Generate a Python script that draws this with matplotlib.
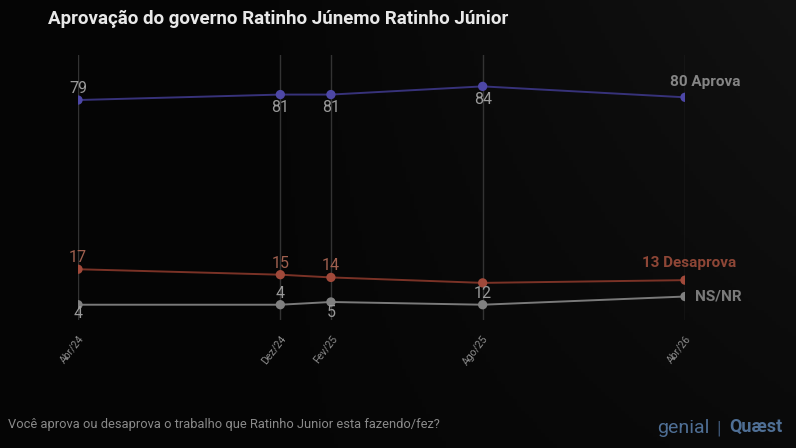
import numpy as np
import matplotlib
matplotlib.use("Agg")
import matplotlib.pyplot as plt

plt.rcParams['font.family'] = ['Roboto', 'DejaVu Sans']

# data
periods = ["Abr/24", "Dez/24", "Fev/25", "Ago/25", "Abr/26"]
months = [0, 8, 10, 16, 24]          # months since Abr/24
aprova = [79, 81, 81, 84, 80]
desaprova = [17, 15, 14, 12, 13]
nsnr = [4, 4, 5, 4, 7]

W, H = 796, 448
fig = plt.figure(figsize=(W / 100, H / 100), dpi=100)

# subtle dark background gradient
bg = fig.add_axes([0, 0, 1, 1], zorder=-10)
gx, gy = np.meshgrid(np.linspace(0, 1, 200), np.linspace(0, 1, 120))
grad = 0.02 + 0.07 * np.clip(gx - 0.3, 0, 1) * (0.4 + 0.6 * gy)
bg.imshow(grad, cmap="gray", vmin=0, vmax=1, aspect="auto", origin="lower",
          extent=[0, 1, 0, 1])
bg.axis("off")

# plot area: x 78..685 px, y 50..320 px
ax = fig.add_axes([78 / W, 1 - 320 / H, (685 - 78) / W, (320 - 55) / H])
ax.set_facecolor("none")
ax.set_xlim(0, 24)
ax.set_ylim(-1.6, 95.5)
for s in ax.spines.values():
    s.set_visible(False)
ax.set_yticks([])
ax.set_xticks(months)
ax.set_xticklabels(periods, rotation=52, ha="right", rotation_mode="anchor",
                   fontsize=7.5, color="#8c8c8c")
ax.tick_params(axis="x", length=0, pad=10)
for m in months:
    ax.axvline(m, color="#333333", lw=1, zorder=1)

series = [
    (aprova, "#37327a", "#4d47a6"),
    (desaprova, "#7a3226", "#a0493a"),
    (nsnr, "#7a7a7a", "#808080"),
]
for vals, lc, mc in series:
    ax.plot(months, vals, color=lc, lw=1.4, zorder=2)
    ax.scatter(months, vals, s=45, color=mc, edgecolor="none", zorder=3)

num_kw = dict(fontsize=11.5, color="#9a9a9a", ha="center", zorder=4)
# Aprova labels
ax.annotate(str(aprova[0]), (months[0], aprova[0]), xytext=(0, 3),
            textcoords="offset points", va="bottom", **num_kw)
for i in (1, 2, 3):
    ax.annotate(str(aprova[i]), (months[i], aprova[i]), xytext=(0, -4),
                textcoords="offset points", va="top", **num_kw)
ax.annotate(f"{aprova[4]} Aprova", (months[4], aprova[4]), xytext=(-11, 6),
            textcoords="offset points", va="bottom", ha="left", fontsize=11,
            fontweight="bold", color="#858585")

# Desaprova labels
num_kw_r = dict(num_kw, color="#a0604f")
for i in (0, 1, 2):
    ax.annotate(str(desaprova[i]), (months[i], desaprova[i]), xytext=(0, 3),
                textcoords="offset points", va="bottom", **num_kw_r)
ax.annotate(str(desaprova[3]), (months[3], desaprova[3]), xytext=(0, -2),
            textcoords="offset points", va="top", **num_kw)
ax.annotate(f"{desaprova[4]} Desaprova", (months[4], desaprova[4]),
            xytext=(-31, 7), textcoords="offset points", va="bottom",
            ha="left", fontsize=11, fontweight="bold", color="#8e4636")

# NS/NR labels
ax.annotate(str(nsnr[0]), (months[0], nsnr[0]), xytext=(0, -1),
            textcoords="offset points", va="top", **num_kw)
ax.annotate(str(nsnr[1]), (months[1], nsnr[1]), xytext=(0, 3),
            textcoords="offset points", va="bottom", **num_kw)
ax.annotate(str(nsnr[2]), (months[2], nsnr[2]), xytext=(0, -2),
            textcoords="offset points", va="top", **num_kw)
ax.annotate("NS/NR", (months[4], nsnr[4]), xytext=(7, 0),
            textcoords="offset points", va="center", ha="left", fontsize=11,
            fontweight="bold", color="#7a7a7a")

fig.text(48 / W, 1 - 19 / H, "Aprovação do governo Ratinho Júnemo Ratinho Júnior",
         fontsize=13.5, fontweight="bold", color="#e8e8e8", va="center")
fig.text(8 / W, 1 - 424 / H,
         "Você aprova ou desaprova o trabalho que Ratinho Junior esta fazendo/fez?",
         fontsize=9.3, color="#8a8a8a", va="center")
fig.text(710 / W, 1 - 428 / H, "genial", fontsize=14, color="#4f6f95",
         ha="right", va="center")
fig.text(719 / W, 1 - 428 / H, "|", fontsize=14, color="#3b5270",
         ha="center", va="center")
fig.text(729 / W, 1 - 427 / H, "Quæst", fontsize=13, fontweight="bold",
         color="#4f6f95", ha="left", va="center")

fig.savefig("out.png", dpi=100, facecolor="black")
